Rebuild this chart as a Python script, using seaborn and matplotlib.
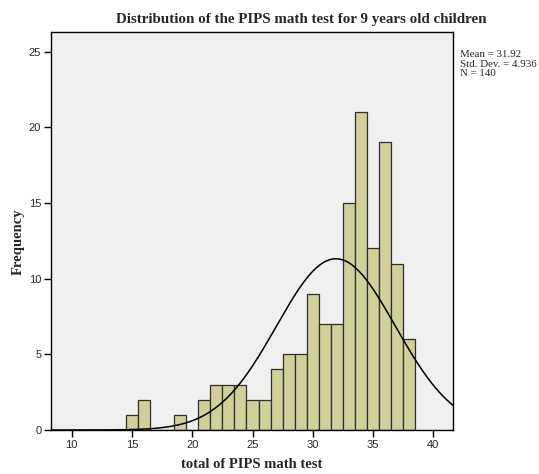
import numpy as np
import pandas as pd
import matplotlib
matplotlib.use("Agg")
import matplotlib.pyplot as plt
import seaborn as sns

scores = [15, 16, 17, 18, 19, 20, 21, 22, 23, 24, 25, 26, 27,
          28, 29, 30, 31, 32, 33, 34, 35, 36, 37, 38]
counts = [1, 2, 0, 0, 1, 0, 2, 3, 3, 3, 2, 2, 4,
          5, 5, 9, 7, 7, 15, 21, 12, 19, 11, 6]
mean = 31.92
sd = 4.936
n = 140
x_ticks = [10, 15, 20, 25, 30, 35, 40]
y_ticks = [0, 5, 10, 15, 20, 25]

df = pd.DataFrame({"score": scores, "count": counts})

sns.set_style("ticks")
plt.rcParams["font.family"] = ["Liberation Sans", "DejaVu Sans"]

fig = plt.figure(figsize=(5.39, 4.74), dpi=100)
ax = fig.add_axes([0.0946, 0.0928, 0.7464, 0.8397])
ax.set_facecolor("#F0F0F0")

sns.histplot(data=df, x="score", weights="count", discrete=True, ax=ax,
             color="#D3CF99", edgecolor="#2e2e2e", linewidth=0.9, alpha=1)

# normal curve scaled to counts (bin width 1)
xs = np.linspace(8.28, 41.66, 400)
ys = n / (sd * np.sqrt(2 * np.pi)) * np.exp(-0.5 * ((xs - mean) / sd) ** 2)
ax.plot(xs, ys, color="black", linewidth=1.1)

ax.set_xlim(8.28, 41.66)
ax.set_ylim(0, 26.3)
ax.set_xticks(x_ticks)
ax.set_yticks(y_ticks)
ax.tick_params(labelsize=8, length=5, width=1, color="black", pad=2)
for s in ax.spines.values():
    s.set_color("black")
    s.set_linewidth(1)
    s.set_visible(True)
ax.set_xlabel("")
ax.set_ylabel("")

serif = ["Liberation Serif", "DejaVu Serif"]
fig.text(252 / 539, 1 - 465 / 474, "total of PIPS math test", family=serif,
         fontweight="bold", fontsize=10.5, ha="center", va="center")
fig.text(18 / 539, 1 - 242 / 474, "Frequency", family=serif, fontweight="bold",
         fontsize=10.5, ha="center", va="center", rotation=90)
fig.text(301 / 539, 1 - 20 / 474, "Distribution of the PIPS math test for 9 years old children",
         family=serif, fontweight="bold", fontsize=10.8, ha="center", va="center")
fig.text(460 / 539, 1 - 50 / 474,
         f"Mean = {mean}\nStd. Dev. = {sd}\nN = {n}",
         family=serif, fontsize=7.8, ha="left", va="top", linespacing=1.08)

fig.savefig("out.png", dpi=100)
